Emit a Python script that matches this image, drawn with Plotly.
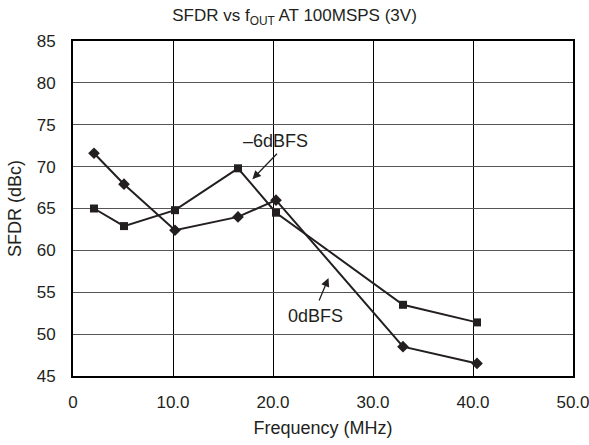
import plotly.graph_objects as go

freq = [2.1, 5.1, 10.2, 16.5, 20.3, 33.0, 40.4]
sfdr_0dbfs = [71.6, 67.9, 62.4, 64.0, 66.0, 48.5, 46.5]
sfdr_m6dbfs = [65.0, 62.9, 64.8, 69.8, 64.5, 53.5, 51.4]
x_ticks = [0, 10, 20, 30, 40, 50]
x_tick_labels = ["0", "10.0", "20.0", "30.0", "40.0", "50.0"]
y_ticks = [45, 50, 55, 60, 65, 70, 75, 80, 85]

line_color = "#231f20"
font = "Liberation Sans, Arial, sans-serif"

fig = go.Figure()
fig.add_trace(go.Scatter(x=freq, y=sfdr_m6dbfs, mode="lines+markers",
                         line=dict(color=line_color, width=2),
                         marker=dict(symbol="square", size=8, color=line_color),
                         name="-6dBFS", showlegend=False))
fig.add_trace(go.Scatter(x=freq, y=sfdr_0dbfs, mode="lines+markers",
                         line=dict(color=line_color, width=2),
                         marker=dict(symbol="diamond", size=9, color=line_color),
                         name="0dBFS", showlegend=False))

fig.update_layout(
    width=589, height=445, autosize=False,
    margin=dict(l=73, r=16, t=41, b=69),
    paper_bgcolor="white", plot_bgcolor="white",
    font=dict(family=font, size=17, color="#231f20"),
    title=dict(text="SFDR vs f<sub>OUT</sub> AT 100MSPS (3V)", x=0.5, xanchor="center",
               y=0.979, yanchor="top", font=dict(size=17, family=font)),
    xaxis=dict(range=[0, 50], tickvals=x_ticks, ticktext=x_tick_labels,
               showgrid=True, gridcolor="black", gridwidth=1,
               showline=True, linecolor="black", linewidth=2, mirror=True,
               ticks="", zeroline=False, automargin=False, ticklabelstandoff=10,
               ticklabeloverflow="allow", tickfont=dict(size=17),
               title=dict(text="Frequency (MHz)", font=dict(size=18), standoff=10)),
    yaxis=dict(range=[45, 85], tickvals=y_ticks,
               showgrid=True, gridcolor="#555555", gridwidth=1,
               showline=True, linecolor="black", linewidth=2, mirror=True,
               ticks="", zeroline=False, automargin=False, ticklabelstandoff=12,
               ticklabeloverflow="allow", tickfont=dict(size=17),
               title=dict(text="SFDR (dBc)", font=dict(size=18), standoff=10)),
    annotations=[
        dict(x=17.94, y=68.5, xref="x", yref="y", ax=26, ay=-27, text="",
             showarrow=True, arrowhead=2, arrowsize=1.3, arrowwidth=1.3, arrowcolor=line_color),
        dict(x=20.24, y=73.06, xref="x", yref="y", text="\u20136dBFS", showarrow=False,
             font=dict(size=18)),
        dict(x=25.55, y=56.7, xref="x", yref="y", ax=-10, ay=24, text="",
             showarrow=True, arrowhead=2, arrowsize=1.3, arrowwidth=1.3, arrowcolor=line_color),
        dict(x=24.25, y=52.16, xref="x", yref="y", text="0dBFS", showarrow=False,
             font=dict(size=18)),
    ],
)

fig.write_html("out.html", config={"displayModeBar": False},
               post_script="document.body.style.margin='0';document.body.style.overflow='hidden';")
